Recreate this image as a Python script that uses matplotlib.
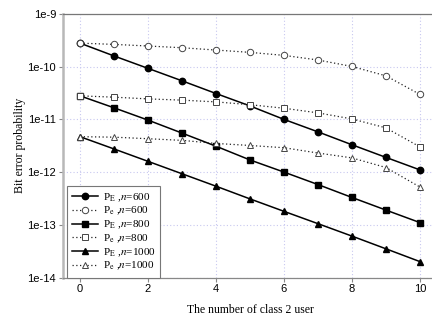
import matplotlib
matplotlib.use("Agg")
import matplotlib.pyplot as plt
from matplotlib.ticker import FixedLocator, FixedFormatter

plt.rcParams['mathtext.fontset'] = 'stix'

x = [0, 1, 2, 3, 4, 5, 6, 7, 8, 9, 10]

PE_600 = [2.8e-10, 1.6e-10, 9.3e-11, 5.4e-11, 3.1e-11, 1.8e-11, 1.0e-11, 5.8e-12, 3.3e-12, 1.9e-12, 1.1e-12]
Pe_600 = [2.8e-10, 2.65e-10, 2.47e-10, 2.29e-10, 2.07e-10, 1.87e-10, 1.64e-10, 1.34e-10, 1.01e-10, 6.7e-11, 2.97e-11]
PE_800 = [2.8e-11, 1.66e-11, 9.7e-12, 5.5e-12, 3.1e-12, 1.7e-12, 1.0e-12, 5.8e-13, 3.3e-13, 1.9e-13, 1.1e-13]
Pe_800 = [2.8e-11, 2.64e-11, 2.45e-11, 2.32e-11, 2.15e-11, 1.9e-11, 1.63e-11, 1.33e-11, 1.02e-11, 6.9e-12, 3.0e-12]
PE_1000 = [4.7e-12, 2.75e-12, 1.6e-12, 9.3e-13, 5.4e-13, 3.1e-13, 1.8e-13, 1.05e-13, 6.1e-14, 3.5e-14, 2.0e-14]
Pe_1000 = [4.7e-12, 4.6e-12, 4.3e-12, 4.0e-12, 3.5e-12, 3.2e-12, 2.9e-12, 2.3e-12, 1.86e-12, 1.22e-12, 5.2e-13]

labels = [r'P$_{\rm E}$ ,$n$=600', r'P$_{\rm e}$ ,$n$=600',
          r'P$_{\rm E}$ ,$n$=800', r'P$_{\rm e}$ ,$n$=800',
          r'P$_{\rm E}$ ,$n$=1000', r'P$_{\rm e}$ ,$n$=1000']

yticks = [1e-14, 1e-13, 1e-12, 1e-11, 1e-10, 1e-9]
ytick_labels = ['1e-14', '1e-13', '1e-12', '1e-11', '1e-10', '1e-9']
xticks = [0, 2, 4, 6, 8, 10]

fig = plt.figure(figsize=(4.32, 3.2), dpi=100)
W, H = 432, 320
ax = fig.add_axes([63 / W, 1 - 277.5 / H, 374 / W, (277.5 - 14) / H])
ax.set_yscale('log')
ax.set_xlim(-0.5, 10.5)
ax.set_ylim(1e-14, 1e-9)

ms_f = 4.6
solid_kw = dict(color='black', lw=1.1, markersize=ms_f)
dot_kw = dict(color='#222222', lw=0.9, ls=(0, (1, 2)), markersize=ms_f,
              markerfacecolor='white', markeredgecolor='#444444', markeredgewidth=0.7)

ax.plot(x, PE_600, marker='o', label=labels[0], **solid_kw)
ax.plot(x, Pe_600, marker='o', label=labels[1], **dot_kw)
ax.plot(x, PE_800, marker='s', label=labels[2], color='black', lw=1.1, markersize=4.2)
ax.plot(x, Pe_800, marker='s', label=labels[3], **{**dot_kw, 'markersize': 4.4})
ax.plot(x, PE_1000, marker='^', label=labels[4], **solid_kw)
ax.plot(x, Pe_1000, marker='^', label=labels[5], **dot_kw)

ax.yaxis.set_major_locator(FixedLocator(yticks))
ax.yaxis.set_major_formatter(FixedFormatter(ytick_labels))
ax.yaxis.set_minor_locator(FixedLocator([]))
ax.set_xticks(xticks)
ax.set_xticklabels([str(v) for v in xticks])

ax.grid(True, which='major', color='#c8c8f0', ls=(0, (1, 2)), lw=0.8)
ax.set_axisbelow(True)

ax.spines['right'].set_visible(False)
ax.spines['left'].set_color('#b8b8b8')
ax.spines['left'].set_linewidth(1.8)
ax.spines['top'].set_color('#777777')
ax.spines['top'].set_linewidth(0.9)
ax.spines['bottom'].set_color('#888888')
ax.spines['bottom'].set_linewidth(0.9)

ax.tick_params(axis='both', which='major', direction='out', length=3, width=0.8,
               color='#888888', labelsize=8, pad=2)
for lab in ax.get_xticklabels() + ax.get_yticklabels():
    lab.set_fontfamily('Liberation Sans')

ax.set_xlabel('The number of class 2 user', family='Liberation Serif', fontsize=8.5, labelpad=7)
ax.set_ylabel('Bit error probability', family='Liberation Serif', fontsize=8.5, labelpad=1)

leg = ax.legend(loc='lower left', bbox_to_anchor=(4 / 374, 0.0), borderaxespad=0,
                prop={'family': 'Liberation Serif', 'size': 8}, handlelength=2.3,
                labelspacing=0.12, handletextpad=0.45, borderpad=0.45,
                fancybox=False, framealpha=1, edgecolor='#777777')
leg.get_frame().set_linewidth(0.8)

fig.savefig('out.png', dpi=100)
